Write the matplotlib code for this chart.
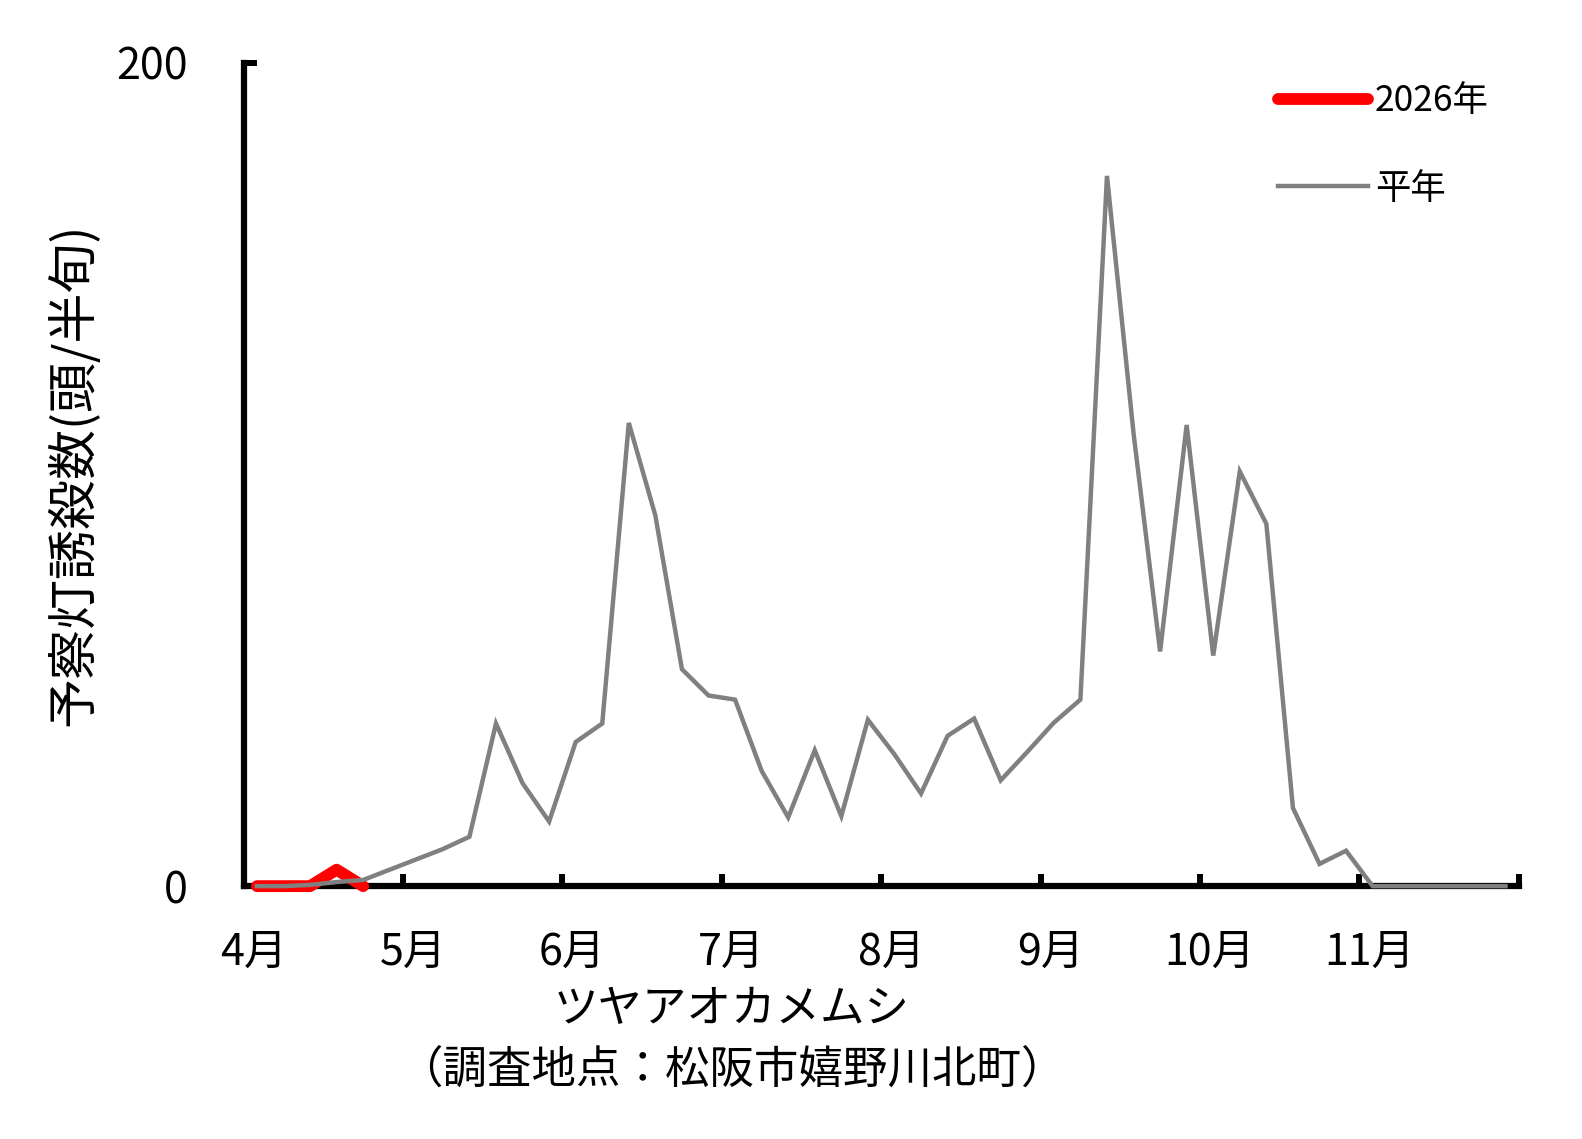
import numpy as np
import matplotlib
matplotlib.use('Agg')
import matplotlib.pyplot as plt
import matplotlib.transforms as mtransforms

plt.rcParams['font.family'] = ['Noto Sans CJK JP', 'DejaVu Sans']

# 半旬ごとのデータ (4月第1半旬 〜 11月第6半旬, 48点)
months = ['4月', '5月', '6月', '7月', '8月', '9月', '10月', '11月', '']
heinen = [0, 0, 0.3, 1, 1.5, 4, 6.5, 9, 12,
          39.5, 25, 15.7, 35, 39.5, 112.5, 90, 52.7, 46.3,
          45.3, 28, 16.7, 33, 17, 40.4, 32, 22.5, 36.5,
          40.7, 25.7, 32.6, 39.7, 45.3, 172.5, 110, 57, 112,
          56, 100.7, 88, 19, 5.4, 8.6, 0, 0, 0, 0, 0, 0]
y2026 = [0, 0, 0, 4, 0]
label_2026 = '2026年'
label_heinen = '平年'
ylabel = '予察灯誘殺数(頭/半旬)'
xlabel = 'ツヤアオカメムシ\n（調査地点：松阪市嬉野川北町）'

fig = plt.figure(figsize=(15.82, 11.39), dpi=100)
ax = fig.add_axes([0.154, 0.222, 0.806, 0.723])

ax.plot(np.arange(len(y2026)), y2026, color='#ff0000', lw=8.5,
        solid_capstyle='round', solid_joinstyle='round', label=label_2026,
        zorder=3, clip_on=False)
ax.plot(np.arange(len(heinen)), heinen, color='#808080', lw=3.2,
        solid_joinstyle='miter', label=label_heinen, zorder=3.1,
        clip_on=False)

ax.set_xlim(-0.5, 47.5)
ax.set_ylim(0, 200)

# 軸の見た目
ax.spines['top'].set_visible(False)
ax.spines['right'].set_visible(False)
for s in ('left', 'bottom'):
    ax.spines[s].set_linewidth(4.5)
    ax.spines[s].set_capstyle('projecting')

ax.set_xticks(np.arange(-0.5, 48, 6))
ax.set_xticklabels(months)
ax.set_yticks([0, 200])
ax.set_yticklabels(['0', '200'])
ax.tick_params(axis='both', direction='in', length=9, width=4.3,
               labelsize=31, color='black')
ax.tick_params(axis='x', pad=32)
ax.tick_params(axis='y', pad=40)

# 月ラベルを少し右にずらす
offset = mtransforms.ScaledTranslation(10 / 100, 0, fig.dpi_scale_trans)
for lab in ax.get_xticklabels():
    lab.set_transform(lab.get_transform() + offset)

ax.set_ylabel(ylabel, fontsize=36, va='center')
ax.yaxis.set_label_coords(-0.133, 0.5)

fig.text(0.4625, 0.0875, xlabel, fontsize=32, ha='center', va='center',
         linespacing=1.42)

ax.legend(loc='upper left', bbox_to_anchor=(0.811, 0.975), frameon=False,
          fontsize=25.5, handlelength=2.55, handletextpad=0.2,
          labelspacing=1.45, borderpad=0, borderaxespad=0)

fig.savefig('out.png', dpi=100)
